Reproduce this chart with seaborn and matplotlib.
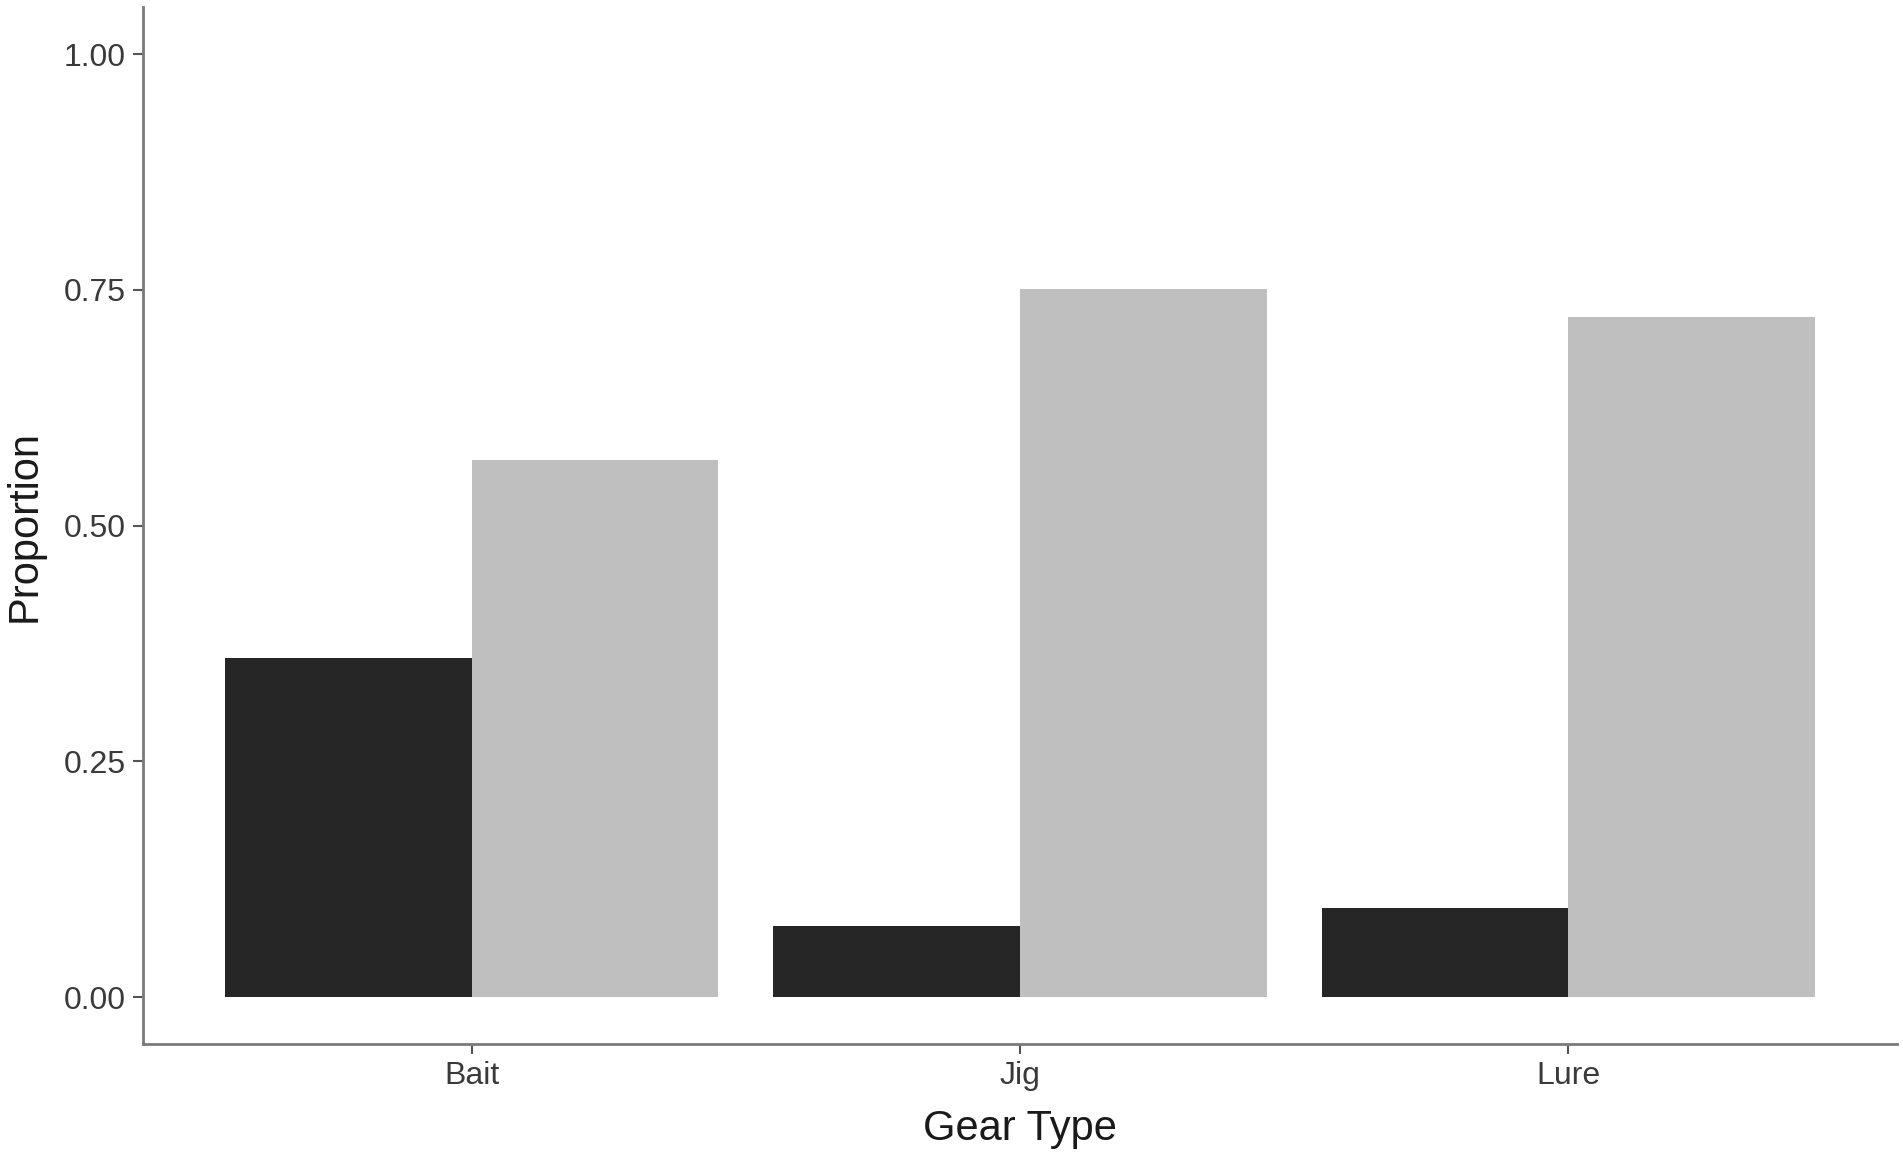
import pandas as pd
import seaborn as sns
import matplotlib
matplotlib.use("Agg")
import matplotlib.pyplot as plt

gear = ["Bait", "Jig", "Lure"]
dark_vals = [0.360, 0.075, 0.095]
light_vals = [0.570, 0.751, 0.721]
groups = ["A", "B"]

df = pd.DataFrame({
    "gear": gear * 2,
    "group": [groups[0]] * 3 + [groups[1]] * 3,
    "prop": dark_vals + light_vals,
})

sns.set_style("white")
plt.rcParams["font.family"] = ["Liberation Sans", "DejaVu Sans"]

fig, ax = plt.subplots(figsize=(19.03, 11.54), dpi=100)
sns.barplot(data=df, x="gear", y="prop", hue="group", order=gear,
            hue_order=groups, palette=["#262626", "#bfbfbf"],
            width=0.9, gap=0, linewidth=0, saturation=1,
            legend=False, ax=ax)

ax.set_xlim(-0.6, 2.6)
ax.set_ylim(-0.05, 1.05)
ax.set_yticks([0, 0.25, 0.5, 0.75, 1.0])
ax.set_yticklabels(["0.00", "0.25", "0.50", "0.75", "1.00"])
ax.set_xlabel("Gear Type", fontsize=30, color="#1a1a1a", labelpad=13)
ax.set_ylabel("Proportion", fontsize=30, color="#1a1a1a", labelpad=14)

for s in ["top", "right"]:
    ax.spines[s].set_visible(False)
for s in ["left", "bottom"]:
    ax.spines[s].set_color("#7a7a7a")
    ax.spines[s].set_linewidth(2)
ax.tick_params(axis="both", length=7, width=1.5, color="#555555",
               labelsize=23, labelcolor="#3a3a3a", pad=5, left=True, bottom=True)

plt.subplots_adjust(left=0.075, right=0.997, top=0.994, bottom=0.095)
fig.savefig("out.png", dpi=100)
